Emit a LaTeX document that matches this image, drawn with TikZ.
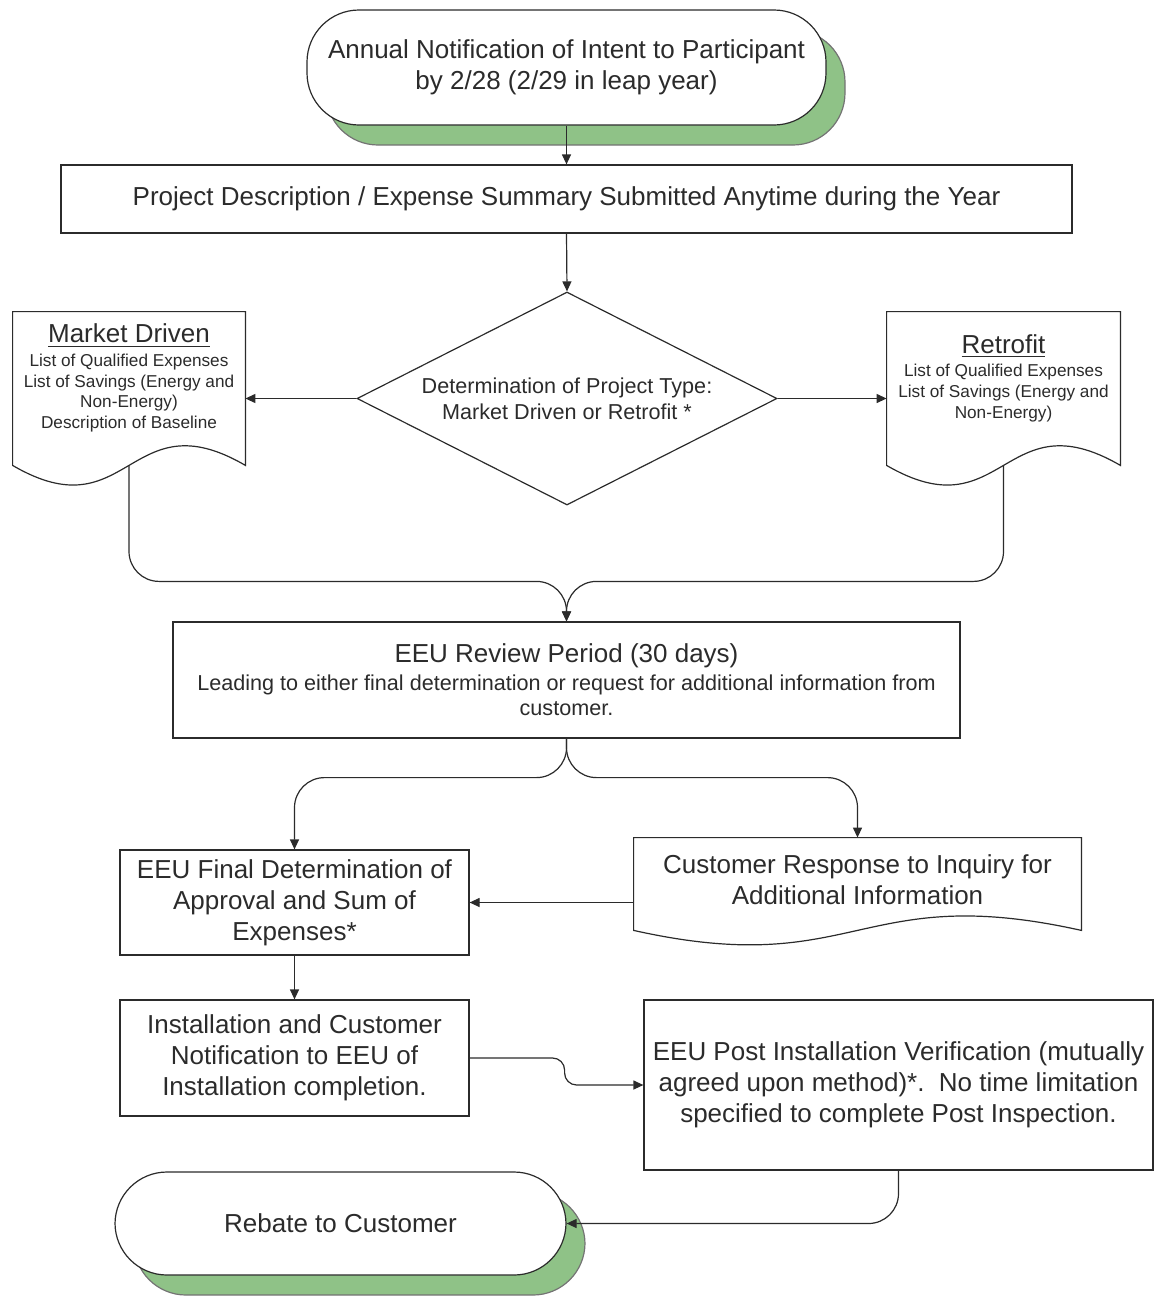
\documentclass[tikz,border=0pt]{standalone}
\usepackage{fontspec}
\setmainfont{Liberation Sans}
\usetikzlibrary{arrows.meta,positioning,shapes.geometric,calc,shadows}
\definecolor{shadegreen}{HTML}{8FC287}
\definecolor{inkgrey}{HTML}{2B2B2B}
\newcommand{\headfont}{\fontsize{13}{13}\selectfont}
% document outline: node, drop of the wave below south, bend of the wave
\newcommand{\docoutline}[3]{%
  \draw[line width=0.6pt,draw=inkgrey] (#1.north west) -- (#1.north east)
    -- ($(#1.south east)+(0,#2)$)
    .. controls ($(#1.south)+(0,#2-#3)$) and ($(#1.south)+(0,#2+#3)$) ..
    ($(#1.south west)+(0,#2)$) -- cycle;
  \coordinate (#1-foot) at ($(#1.south)+(0,#2)$);}

\begin{document}
\begin{tikzpicture}[x=0.5pt,y=-0.5pt,
    every node/.style={text=inkgrey},
    bigtxt/.style={font=\fontsize{13}{15.5}\selectfont},
    box/.style={draw=inkgrey,line width=0.6pt,align=center,inner sep=2pt,bigtxt},
    terminal/.style={box,rounded corners=26pt,fill=white,
      drop shadow={shadow xshift=9.5pt,shadow yshift=-10pt,
                   fill=shadegreen,draw=black!55,opacity=1}},
    doc/.style={align=center,inner sep=0pt},
    arr/.style={-{Triangle[length=5pt,width=4.5pt]},line width=0.6pt,draw=inkgrey},
  ]
  \useasboundingbox (0,0) rectangle (1154,1296);

  \node[terminal,minimum width=259.5pt,minimum height=57.5pt] (notice) at (566.5,67.5)
    {Annual Notification of Intent to Participant\\by 2/28 (2/29 in leap year)};
  \node[box,minimum width=505.5pt,minimum height=34pt] (summary) at (566.5,199)
    {Project Description / Expense Summary Submitted Anytime during the Year};
  \node[diamond,draw=inkgrey,line width=0.6pt,aspect=1.97,inner sep=0pt,
        minimum width=210pt,minimum height=106.5pt,align=center,
        font=\fontsize{10.8}{13}\selectfont] (ptype) at (567,398.5)
    {Determination of Project Type:\\Market Driven or Retrofit *};

  \node[doc,minimum width=116pt,minimum height=66pt,font=\fontsize{8.6}{10.3}\selectfont]
    (market) at (129,378)
    {{\headfont\underline{Market Driven}}\\[1.5pt]List of Qualified Expenses\\
     List of Savings (Energy and\\Non-Energy)\\Description of Baseline};
  \node[doc,minimum width=116.5pt,minimum height=66pt,font=\fontsize{8.6}{10.3}\selectfont]
    (retrofit) at (1003.5,378)
    {{\headfont\underline{Retrofit}}\\[1.5pt]List of Qualified Expenses\\
     List of Savings (Energy and\\Non-Energy)};
  \docoutline{market}{21}{68}
  \docoutline{retrofit}{21}{68}

  \node[box,minimum width=393.5pt,minimum height=58pt,
        font=\fontsize{10.8}{12.5}\selectfont] (review) at (566.5,680)
    {{\headfont EEU Review Period (30 days)}\\[1.5pt]
     Leading to either final determination or request for additional information from\\
     customer.};

  \node[box,minimum width=174.5pt,minimum height=52.5pt] (final) at (294.5,902.5)
    {EEU Final Determination of\\Approval and Sum of\\Expenses*};
  \node[doc,bigtxt,minimum width=223.5pt,minimum height=42pt] (inquiry) at (857.5,880)
    {Customer Response to Inquiry for\\Additional Information};
  \docoutline{inquiry}{8}{50}

  \node[box,minimum width=174.5pt,minimum height=58pt] (install) at (294.5,1058)
    {Installation and Customer\\Notification to EEU of\\Installation completion.};
  \node[box,minimum width=254.5pt,minimum height=85pt] (verify) at (898.5,1085)
    {EEU Post Installation Verification (mutually\\
     agreed upon method)*.\ \ No time limitation\\
     specified to complete Post Inspection.};
  \node[terminal,minimum width=225.5pt,minimum height=51.5pt] (rebate) at (340.5,1223.5)
    {Rebate to Customer};

  \coordinate (merge) at ($(review.north)+(0,-40)$);
  \coordinate (split) at ($(review.south)+(0,39)$);

  \draw[arr] (notice.south) -- (summary.north);
  \draw[arr] (summary.south) -- (ptype.north);
  \draw[arr] (ptype.west) -- (ptype.west -| market.east);
  \draw[arr] (ptype.east) -- (ptype.east -| retrofit.west);
  \draw[arr,rounded corners=15pt] (market-foot) |- (merge) -- (review.north);
  \draw[arr,rounded corners=15pt] (retrofit-foot) |- (merge) -- (review.north);
  \draw[arr,rounded corners=15pt] (review.south) -- (split) -| (final.north);
  \draw[arr,rounded corners=15pt] (review.south) -- (split) -| (inquiry.north);
  \draw[arr] (final.east -| inquiry.west) -- (final.east);
  \draw[arr] (final.south) -- (install.north);
  \draw[arr,rounded corners=6pt] (install.east) -- ++(95,0) |- (verify.west);
  \draw[arr,rounded corners=15pt] (verify.south) |- (rebate.east);
\end{tikzpicture}
\end{document}
